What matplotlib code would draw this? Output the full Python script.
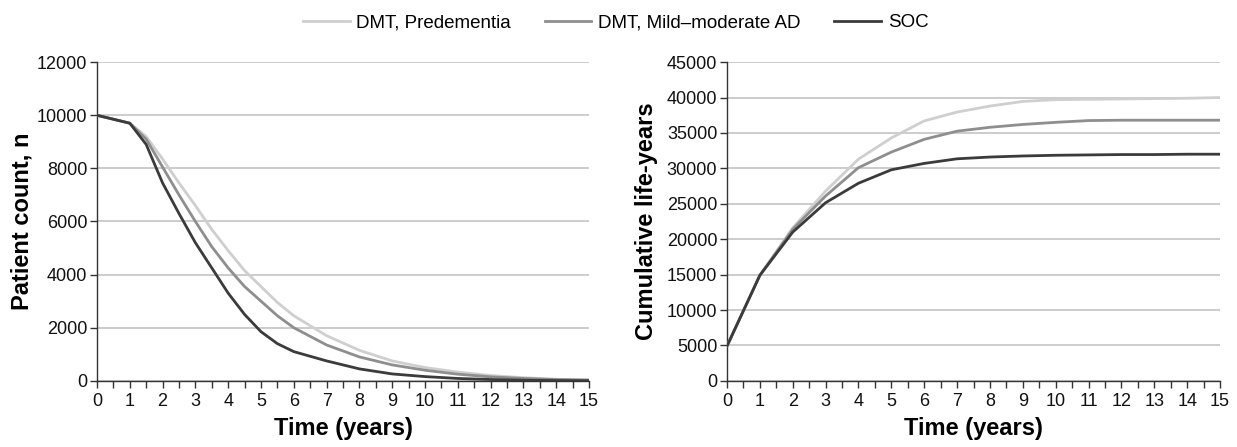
import numpy as np
import matplotlib
matplotlib.use("Agg")
import matplotlib.pyplot as plt
from matplotlib.ticker import MultipleLocator

plt.rcParams['font.family'] = ['Liberation Sans', 'DejaVu Sans']

series = ["DMT, Predementia", "DMT, Mild\u2013moderate AD", "SOC"]
colors = ["#cfcfcf", "#8e8e8e", "#3b3b3b"]

# patient count (left panel)
t_count = [0, 1, 1.5, 2, 2.5, 3, 3.5, 4, 4.5, 5, 5.5, 6, 7, 8, 9, 10, 11, 12, 13, 14, 15]
count_pred = [10000, 9700, 9200, 8350, 7450, 6600, 5700, 4900, 4150, 3550, 2950, 2450,
              1700, 1150, 750, 500, 330, 200, 120, 60, 30]
count_mild = [10000, 9700, 9100, 8050, 7000, 6000, 5050, 4250, 3550, 3000, 2450, 2000,
              1350, 900, 600, 400, 250, 150, 90, 50, 30]
count_soc = [10000, 9700, 8900, 7450, 6300, 5200, 4250, 3300, 2500, 1850, 1400, 1100,
             750, 450, 260, 160, 90, 50, 25, 10, 5]

# cumulative life-years (right panel)
t_ly = [0, 1, 2, 3, 4, 5, 6, 7, 8, 9, 10, 11, 12, 13, 14, 15]
ly_pred = [4900, 14900, 21600, 26800, 31300, 34300, 36700, 37950, 38800, 39450, 39700,
           39750, 39800, 39850, 39900, 40000]
ly_mild = [4900, 14900, 21400, 26100, 30100, 32300, 34100, 35250, 35800, 36200, 36500,
           36750, 36800, 36800, 36800, 36800]
ly_soc = [4900, 14900, 21000, 25150, 27900, 29800, 30700, 31350, 31600, 31750, 31850,
          31900, 31950, 31950, 32000, 32000]

fig = plt.figure(figsize=(12.37, 4.47), dpi=100)
ax1 = fig.add_axes([0.0784, 0.148, 0.3978, 0.713])
ax2 = fig.add_axes([0.5877, 0.148, 0.3986, 0.713])

for ax, t, ys in [(ax1, t_count, [count_pred, count_mild, count_soc]),
                  (ax2, t_ly, [ly_pred, ly_mild, ly_soc])]:
    for y, c, lab in zip(ys, colors, series):
        ax.plot(t, y, color=c, lw=2.0, label=lab, zorder=3)
    ax.set_xlim(0, 15)
    ax.xaxis.set_major_locator(MultipleLocator(1))
    ax.xaxis.set_minor_locator(MultipleLocator(0.5))
    ax.grid(axis='y', color='#c8c8c8', lw=1.3, zorder=0)
    ax.set_axisbelow(True)
    for s in ['top', 'right']:
        ax.spines[s].set_visible(False)
    for s in ['left', 'bottom']:
        ax.spines[s].set_color('#333333')
        ax.spines[s].set_linewidth(1.0)
    ax.tick_params(axis='both', which='both', direction='out', colors='#333333',
                   labelcolor='#111111', labelsize=13, width=1.0)
    ax.tick_params(axis='x', which='major', length=5, pad=4)
    ax.tick_params(axis='x', which='minor', length=5)
    ax.tick_params(axis='y', length=5, pad=2)
    ax.set_xlabel("Time (years)", fontsize=17, fontweight='bold', labelpad=5)

ax1.set_ylim(0, 12000)
ax1.yaxis.set_major_locator(MultipleLocator(2000))
ax1.set_ylabel("Patient count, n", fontsize=17, fontweight='bold', labelpad=2)

ax2.set_ylim(0, 45000)
ax2.yaxis.set_major_locator(MultipleLocator(5000))
ax2.set_ylabel("Cumulative life-years", fontsize=17, fontweight='bold', labelpad=6)

handles, labels = ax1.get_legend_handles_labels()
fig.legend(handles, labels, loc='center', bbox_to_anchor=(0.4976, 0.949), ncol=3,
           frameon=False, fontsize=13.5, handlelength=2.5, columnspacing=1.8,
           handletextpad=0.35)

fig.savefig("out.png", dpi=100)
